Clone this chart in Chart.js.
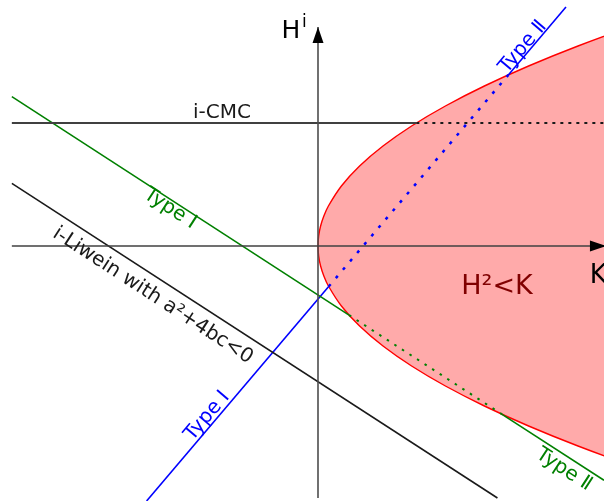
<!DOCTYPE html>
<html>
<head>
<meta charset="utf-8">
<script src="https://cdn.jsdelivr.net/npm/chart.js@4"></script>
<style>
  html, body { margin: 0; padding: 0; background: #fff; }
  #wrap { width: 604px; height: 501px; }
</style>
</head>
<body>
<div id="wrap"><canvas id="chart" width="604" height="501"></canvas></div>
<script>
// region H^2 < K : boundary (K, H)
const boundaryK = [7, 6.76, 5.76, 4.84, 4.0, 3.24, 2.56, 1.96, 1.44, 1.0, 0.64, 0.36, 0.16, 0.09, 0.04, 0.01, 0,
                   0.01, 0.04, 0.09, 0.16, 0.36, 0.64, 1.0, 1.44, 1.96, 2.56, 3.24, 4.0, 4.84, 5.76, 6.76, 7];
const boundaryH = [2.6, 2.6, 2.4, 2.2, 2.0, 1.8, 1.6, 1.4, 1.2, 1.0, 0.8, 0.6, 0.4, 0.3, 0.2, 0.1, 0,
                   -0.1, -0.2, -0.3, -0.4, -0.6, -0.8, -1.0, -1.2, -1.4, -1.6, -1.8, -2.0, -2.2, -2.4, -2.6, -2.6];

// axes
const kAxisK = [-4.71, 4.43];
const hAxisH = [-2.52, 2.19];

// i-CMC (horizontal), solid part then part inside the region
const cmcH = 1.23;
const cmcK = [-4.71, 1.513, 4.4];

// green line (Type I / Type II)
const greenK = [-4.71, 0.478, 2.832, 4.4];
const greenH = [1.494, -0.691, -1.683, -2.343];

// i-Liwein line
const liweinK = [-4.71, 2.761];
const liweinH = [0.627, -2.52];

// blue line (Type I / Type II)
const blueK = [-2.637, 0.1646, 2.928, 3.815];
const blueH = [-2.55, -0.405, 1.711, 2.39];

const pts = (ks, hs) => ks.map((k, i) => ({ x: k, y: hs[i] }));
const seg = (ks, hs, a, b) => pts(ks.slice(a, b + 1), hs.slice(a, b + 1));

const line = (data, color, width, dash) => ({
    data: data, showLine: true, borderColor: color, borderWidth: width,
    borderDash: dash || [], pointRadius: 0, fill: false, tension: 0, order: 1
});

const textLabels = [
    { text: 'i-CMC', k: -1.477, h: 1.28, angle: 0, color: '#1a1a1a', size: 20, align: 'center' },
    { text: 'H²<K', k: 2.754, h: -0.48, angle: 0, color: '#800000', size: 27, align: 'center' },
    { text: 'K', k: 4.18, h: -0.37, angle: 0, color: '#000', size: 26, align: 'left' },
    { text: 'H', k: -0.562, h: 2.08, angle: 0, color: '#000', size: 25, align: 'left' },
    { text: 'i', k: -0.246, h: 2.19, angle: 0, color: '#000', size: 17, align: 'left' },
    { text: 'Type Ⅰ', k: -2.32, h: 0.33, angle: 33, color: '#008000', size: 20, align: 'center' },
    { text: 'Type Ⅱ', k: 3.74, h: -2.28, angle: 33, color: '#008000', size: 20, align: 'center' },
    { text: 'Type Ⅰ', k: -1.642, h: -1.734, angle: -49.7, color: '#0000ff', size: 20, align: 'center' },
    { text: 'Type Ⅱ', k: 3.215, h: 1.956, angle: -49.7, color: '#0000ff', size: 20, align: 'center' },
    { text: 'i-Liwein with a²+4bc<0', k: -2.585, h: -0.54, angle: 33, color: '#1a1a1a', size: 20, align: 'center' }
];

// arrow heads at the ends of the axes, then all text
const decorations = {
    id: 'decorations',
    afterDatasetsDraw(chart) {
        const ctx = chart.ctx;
        const xs = chart.scales.x, ys = chart.scales.y;
        ctx.save();
        ctx.fillStyle = '#000';
        // vertical axis arrow
        let tx = xs.getPixelForValue(0), ty = ys.getPixelForValue(hAxisH[1]);
        ctx.beginPath();
        ctx.moveTo(tx, ty);
        ctx.lineTo(tx - 5.5, ty + 16);
        ctx.lineTo(tx + 5.5, ty + 16);
        ctx.closePath();
        ctx.fill();
        // horizontal axis arrow
        tx = xs.getPixelForValue(kAxisK[1]); ty = ys.getPixelForValue(0);
        ctx.beginPath();
        ctx.moveTo(tx, ty);
        ctx.lineTo(tx - 16, ty - 5.5);
        ctx.lineTo(tx - 16, ty + 5.5);
        ctx.closePath();
        ctx.fill();

        textLabels.forEach(l => {
            ctx.save();
            ctx.translate(xs.getPixelForValue(l.k), ys.getPixelForValue(l.h));
            ctx.rotate(l.angle * Math.PI / 180);
            ctx.font = l.size + 'px "DejaVu Sans"';
            ctx.fillStyle = l.color;
            ctx.textAlign = l.align;
            ctx.textBaseline = 'alphabetic';
            ctx.fillText(l.text, 0, 0);
            ctx.restore();
        });
        ctx.restore();
    }
};

new Chart(document.getElementById('chart'), {
    type: 'scatter',
    data: {
        datasets: [
            {
                data: pts(boundaryK, boundaryH), showLine: true, fill: 'shape',
                backgroundColor: '#ffaaaa', borderColor: '#ff0000', borderWidth: 1.4,
                pointRadius: 0, tension: 0.35, order: 5
            },
            line(pts(kAxisK, [0, 0]), '#404040', 1.6),
            line(pts([0, 0], hAxisH), '#4d4d4d', 1.6),
            line(pts(cmcK.slice(0, 2), [cmcH, cmcH]), '#404040', 2.2),
            line(pts(cmcK.slice(1, 3), [cmcH, cmcH]), '#1a1a1a', 2, [3, 5]),
            line(seg(greenK, greenH, 0, 1), '#008000', 1.6),
            line(seg(greenK, greenH, 1, 2), '#008000', 2, [2.5, 6.5]),
            line(seg(greenK, greenH, 2, 3), '#008000', 1.6),
            line(pts(liweinK, liweinH), '#1a1a1a', 1.6),
            line(seg(blueK, blueH, 0, 1), '#0000ff', 1.6),
            line(seg(blueK, blueH, 1, 2), '#0000ff', 2.5, [3, 8]),
            line(seg(blueK, blueH, 2, 3), '#0000ff', 1.6)
        ]
    },
    options: {
        responsive: false,
        animation: false,
        devicePixelRatio: 1,
        layout: { padding: 0 },
        plugins: { legend: { display: false }, tooltip: { enabled: false } },
        scales: {
            x: { type: 'linear', min: -318 / 65, max: 286 / 65, display: false },
            y: { type: 'linear', min: -2.55, max: 2.46, display: false }
        }
    },
    plugins: [decorations]
});
</script>
</body>
</html>
